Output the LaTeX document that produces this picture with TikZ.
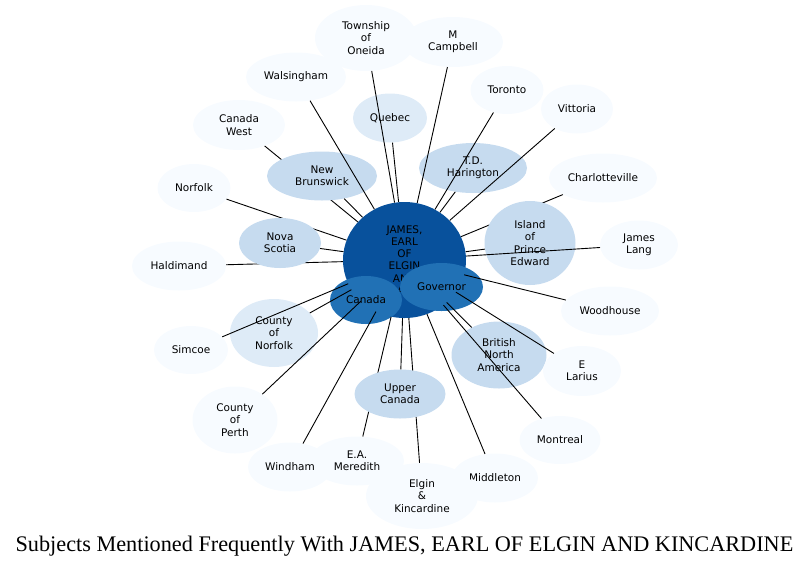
\documentclass[tikz,border=0pt]{standalone}
\usepackage{fontspec}
\usepackage{xcolor}
\usepackage{tikz}
\usetikzlibrary{shapes.geometric}
\newfontfamily\labelfont{DejaVu Sans}
\newfontfamily\captionfont{Liberation Serif}
\definecolor{earlBlue}{HTML}{08519C}
\definecolor{midBlue}{HTML}{2171B5}
\definecolor{paleBlue}{HTML}{C6DBEF}
\definecolor{mistBlue}{HTML}{DEEBF7}
\definecolor{snowBlue}{HTML}{F7FBFF}
\tikzset{
  subj/.style={
    ellipse, draw=none, fill=#1,
    inner sep=0pt, align=center, text=black,
    font=\labelfont\fontsize{10.5}{12.3}\selectfont
  },
  dims/.style 2 args={minimum width=#1pt, minimum height=#2pt},
  link/.style={draw=black, line width=0.9pt},
}

\begin{document}
\begin{tikzpicture}[x=1pt, y=-1pt]
  \useasboundingbox (0,0) rectangle (811,566);

  % Centre
  \node[subj=earlBlue, dims={123}{116}] (earl) at (404.5,260)
    {JAMES,\\EARL\\OF\\ELGIN\\AND\\KINCARDINE};
  \node[subj=midBlue, dims={72}{48}] (canada)   at (366,300)   {Canada};
  \node[subj=midBlue, dims={83}{48}] (governor) at (441.5,287) {Governor};

  % Outer ring
  \node[subj=snowBlue, dims={102}{66}] (oneida)     at (366,38)  {Township\\of\\Oneida};
  \node[subj=snowBlue, dims={100}{50}] (campbell)   at (453,42)  {M\\Campbell};
  \node[subj=snowBlue, dims={100}{49}] (walsingham) at (296,77)  {Walsingham};
  \node[subj=mistBlue, dims={74}{49}]  (quebec)     at (390,118) {Quebec};
  \node[subj=snowBlue, dims={73}{48}]  (toronto)    at (507,90)  {Toronto};
  \node[subj=snowBlue, dims={72}{49}]  (vittoria)   at (577,109) {Vittoria};
  \node[subj=snowBlue, dims={92}{50}]  (canwest)    at (239,125) {Canada\\West};
  \node[subj=paleBlue, dims={108}{50}] (harington)  at (473,168) {T.D.\\Harington};
  \node[subj=snowBlue, dims={108}{49}] (charlotte)  at (603,178) {Charlotteville};
  \node[subj=snowBlue, dims={73}{48}]  (norfolk)    at (194,188) {Norfolk};
  \node[subj=snowBlue, dims={78}{49}]  (lang)       at (639,245) {James\\Lang};
  \node[subj=snowBlue, dims={94}{49}]  (haldimand)  at (179,266) {Haldimand};
  \node[subj=snowBlue, dims={98}{49}]  (woodhouse)  at (610,311) {Woodhouse};
  \node[subj=mistBlue, dims={88}{68}]  (cnorfolk)   at (274,333) {County\\of\\Norfolk};
  \node[subj=snowBlue, dims={74}{48}]  (simcoe)     at (191,350) {Simcoe};
  \node[subj=paleBlue, dims={95}{67}]  (bna)        at (499,355) {British\\North\\America};
  \node[subj=snowBlue, dims={78}{50}]  (larius)     at (582,371) {E\\Larius};
  \node[subj=snowBlue, dims={85}{67}]  (perth)      at (235,420) {County\\of\\Perth};
  \node[subj=snowBlue, dims={81}{48}]  (montreal)   at (560,440) {Montreal};
  \node[subj=snowBlue, dims={94}{49}]  (meredith)   at (357,461) {E.A.\\Meredith};
  \node[subj=snowBlue, dims={84}{49}]  (windham)    at (290,467) {Windham};
  \node[subj=snowBlue, dims={86}{49}]  (middleton)  at (495,478) {Middleton};
  \node[subj=snowBlue, dims={112}{66}] (elgin)      at (422,496) {Elgin\\\&\\Kincardine};

  % Links that run under a bubble
  \draw[link] (earl) -- (canwest);
  \draw[link] (earl) -- (norfolk);
  \draw[link] (earl) -- (haldimand);
  \draw[link] (earl) -- (charlotte);
  \draw[link] (earl) -- (meredith);
  \draw[link] (earl) -- (elgin);

  % Bubbles on top of those links
  \node[subj=paleBlue, dims={110}{49}] (brunswick) at (322,176) {New\\Brunswick};
  \node[subj=paleBlue, dims={82}{50}]  (scotia)    at (280,243) {Nova\\Scotia};
  \node[subj=paleBlue, dims={91}{84}]  (island)    at (530,243) {Island\\of\\Prince\\Edward};
  \node[subj=paleBlue, dims={91}{49}]  (upper)     at (400,394) {Upper\\Canada};

  % Links on top
  \draw[link] (earl) -- (oneida);
  \draw[link] (earl) -- (campbell);
  \draw[link] (earl) -- (walsingham);
  \draw[link] (earl) -- (quebec);
  \draw[link] (earl) -- (toronto);
  \draw[link] (earl) -- (vittoria);
  \draw[link] (earl) -- (brunswick);
  \draw[link] (earl) -- (harington);
  \draw[link] (earl) -- (island);
  \draw[link] (earl) -- (lang);
  \draw[link] (earl) -- (scotia);
  \draw[link] (earl) -- (woodhouse);
  \draw[link] (earl) -- (cnorfolk);
  \draw[link] (earl) -- (simcoe);
  \draw[link] (earl) -- (bna);
  \draw[link] (earl) -- (larius);
  \draw[link] (earl) -- (upper);
  \draw[link] (earl) -- (perth);
  \draw[link] (earl) -- (montreal);
  \draw[link] (earl) -- (windham);
  \draw[link] (earl) -- (middleton);

  % Caption
  \node[font=\captionfont\fontsize{22.25}{26}\selectfont] (caption) at (404.5,546)
    {Subjects Mentioned Frequently With JAMES, EARL OF ELGIN AND KINCARDINE};
\end{tikzpicture}
\end{document}
